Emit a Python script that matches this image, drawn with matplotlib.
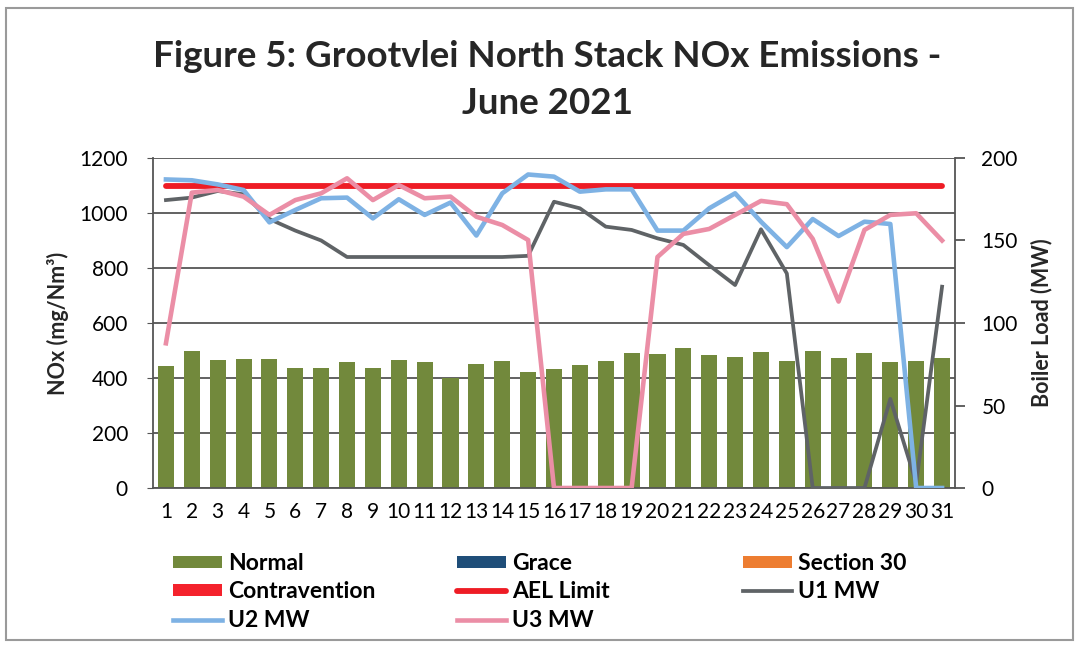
import matplotlib.pyplot as plt
from matplotlib.patches import Rectangle

plt.rcParams['font.family'] = ['Lato', 'DejaVu Sans']

days = list(range(1, 32))
normal = [444, 499, 465, 468, 468, 435, 438, 459, 435, 465, 459, 401, 451, 463, 421,
          432, 446, 463, 490, 487, 510, 484, 476, 496, 462, 499, 471, 490, 459, 463, 471]
grace = [0] * 31
section30 = [0] * 31
contravention = [0] * 31
ael_limit = [1100] * 31
u1_mw = [174.5, 176, 180, 178, 163, 156, 150, 140, 140, 140, 140, 140, 140, 140, 140.7,
         173.5, 169.5, 158.4, 156.4, 151.3, 147.3, 135, 123, 156.8, 130, 0, 0, 0, 54, 3, 122]
u2_mw = [187, 186.5, 184, 180.6, 161, 168.5, 175.6, 176, 163.4, 175, 165.5, 173, 153, 178.6, 190,
         188.7, 179.6, 181, 181, 156, 156, 169.5, 178.6, 161.4, 146, 163, 152.7, 161.4, 160, 0, 0]
u3_mw = [87.7, 179, 180.6, 176.6, 165.5, 174.5, 178.6, 187.7, 174.5, 183.6, 175.6, 176.6, 164.4, 159.4, 150.3,
         0, 0, 0, 0, 140, 154, 157, 165.5, 174, 172, 151, 113, 156.4, 165.5, 166.5, 150]

W, H = 1079, 646
fig = plt.figure(figsize=(W / 100, H / 100), dpi=100)
fig.set_facecolor('white')
fig.patches.append(Rectangle((6 / W, 6 / H), 1 - 12 / W, 1 - 14 / H, transform=fig.transFigure,
                             fill=False, edgecolor='#9a9a9a', lw=1.5))

ax = fig.add_axes([153 / W, 1 - 488 / H, (955 - 153) / W, 330 / H])
ax2 = ax.twinx()

bw = 0.62
b_normal = ax.bar(days, normal, width=bw, color='#72893c', label='Normal')
b_grace = ax.bar(days, grace, width=bw, bottom=normal, color='#1f4e79', label='Grace')
b_s30 = ax.bar(days, section30, width=bw, bottom=normal, color='#ed7d31', label='Section 30')
b_con = ax.bar(days, contravention, width=bw, bottom=normal, color='#f4222c', label='Contravention')
l_ael, = ax.plot(days, ael_limit, color='#ee1c25', lw=4.2, solid_capstyle='round', label='AEL Limit')

l_u1, = ax2.plot(days, u1_mw, color='#5f6366', lw=2.7, label='U1 MW')
l_u2, = ax2.plot(days, u2_mw, color='#7eb2e4', lw=3.3, label='U2 MW')
l_u3, = ax2.plot(days, u3_mw, color='#eb8ea6', lw=3.3, label='U3 MW')

ax.set_xlim(0.5, 31.5)
ax.set_ylim(0, 1200)
ax.set_yticks(range(0, 1201, 200))
ax.set_xticks(days)
ax2.set_ylim(0, 200)
ax2.set_yticks(range(0, 201, 50))

ax.grid(axis='y', color='#555555', lw=1.3)
ax.set_axisbelow(True)
for s in ['top', 'right']:
    ax.spines[s].set_visible(False)
for s in ['top', 'left', 'bottom']:
    ax2.spines[s].set_visible(False)
for s in [ax.spines['left'], ax.spines['bottom'], ax2.spines['right']]:
    s.set_color('#555555')
    s.set_linewidth(1.3)

ax.tick_params(axis='y', length=4, color='#555555', pad=14, labelsize=15)
ax.tick_params(axis='x', length=0, pad=10, labelsize=15)
ax2.tick_params(axis='y', length=7, color='#555555', width=1.3, pad=12, labelsize=15)

fig.text(547 / W, 1 - 80 / H, 'Figure 5: Grootvlei North Stack NOx Emissions -\nJune 2021',
         ha='center', va='center', fontsize=26.5, fontweight='bold', color='#262626', linespacing=1.5)
fig.text(58 / W, 1 - 323 / H, 'NOx (mg/Nm³)', rotation=90, ha='center', va='center',
         fontsize=15.5, fontweight='bold', color='#262626')
fig.text(1042 / W, 1 - 323 / H, 'Boiler Load (MW)', rotation=90, ha='center', va='center',
         fontsize=15.5, fontweight='bold', color='#262626')

cols = [([b_normal, b_con, l_u2], 173), ([b_grace, l_ael, l_u3], 457), ([b_s30, l_u1], 743)]
for handles, x0 in cols:
    fig.legend(handles=handles, labels=[h.get_label() for h in handles],
               loc='upper left', bbox_to_anchor=(x0 / W, 1 - 553 / H),
               frameon=False, borderpad=0, borderaxespad=0,
               prop={'size': 16.5, 'weight': 'bold'}, handlelength=2.15, handleheight=0.45,
               handletextpad=0.27, labelspacing=0.32)

fig.savefig('out.png', dpi=100)
